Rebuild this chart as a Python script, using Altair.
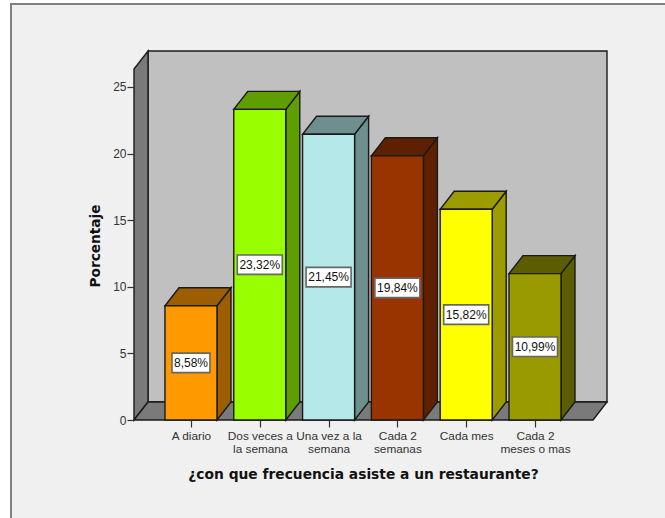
import altair as alt
import pandas as pd

categorias = ["A diario", "Dos veces a\nla semana", "Una vez a la\nsemana",
              "Cada 2\nsemanas", "Cada mes", "Cada 2\nmeses o mas"]
porcentajes = [8.58, 23.32, 21.45, 19.84, 15.82, 10.99]
etiquetas = ["8,58%", "23,32%", "21,45%", "19,84%", "15,82%", "10,99%"]
frente = ["#ff9900", "#99ff00", "#b5e8e8", "#993300", "#ffff00", "#999900"]
lateral = ["#9c5e00", "#5f9e00", "#6f8f8f", "#5f2000", "#9c9c00", "#5c5c00"]

# Extent of the pseudo-3D box, in axis units
X_MIN, X_MAX = -0.828, 5.843
DX, DY = 0.2035, 1.35
Y_TOP = 26.35
MITAD = 0.378  # half a bar's width
LINEA = "#1a1a1a"

WIDTH, HEIGHT = 473, 369
PAD_L, PAD_T, PAD_R, PAD_B = 134, 51, 58, 98

x_scale = alt.Scale(domain=[X_MIN, X_MAX + DX], nice=False, zero=False)
y_scale = alt.Scale(domain=[0, Y_TOP + DY], nice=False)

lista = "[" + ",".join("'" + c.replace("\n", "|") + "'" for c in categorias) + "]"
eje_x = alt.Axis(
    values=list(range(6)), labelExpr=f"split({lista}[datum.value], '|')",
    labelFont="Liberation Sans", labelFontSize=11.8, labelColor="#333333",
    labelOverlap=False, labelFlush=False, labelBound=False, labelPadding=3,
    labelLineHeight=13, tickColor="#333333", tickSize=7, tickWidth=1.2, domain=False, grid=False,
    titleFont="DejaVu Sans", titleFontSize=13.8, titleFontWeight="bold", titleColor="#111111",
    titleX=229, titleY=54, titleAnchor="middle", titleBaseline="middle", zindex=1,
    title="¿con que frecuencia asiste a un restaurante?",
)
eje_y = alt.Axis(
    values=[0, 5, 10, 15, 20, 25], labelFont="Liberation Sans", labelFontSize=12,
    labelColor="#333333", labelPadding=1, tickColor="#333333", tickSize=7, tickWidth=1.2,
    domain=False, grid=False,
    titleFont="DejaVu Sans", titleFontSize=13.7, titleFontWeight="bold", titleColor="#111111",
    titleX=-39, titleY=194.5, titleAnchor="middle", titleBaseline="middle", zindex=1,
    title="Porcentaje",
)
X = lambda f: alt.X(f, type="quantitative", scale=x_scale, axis=eje_x)
Y = lambda f: alt.Y(f, type="quantitative", scale=y_scale, axis=eje_y)

frame = alt.Chart(pd.DataFrame({"a": [0]})).mark_rect(
    fill="#f0f0f0", stroke="#808080", strokeWidth=2
).encode(
    x=alt.value(11 - PAD_L), x2=alt.value(WIDTH + PAD_R + 20),
    y=alt.value(4 - PAD_T), y2=alt.value(HEIGHT + PAD_B + 20),
)

pared_fondo = alt.Chart(pd.DataFrame({
    "x": [X_MIN + DX], "x2": [X_MAX + DX], "y": [DY], "y2": [Y_TOP + DY],
})).mark_rect(fill="#c0c0c0", stroke=LINEA, strokeWidth=1.4).encode(
    x=X("x"), x2="x2", y=Y("y"), y2="y2")

pared_izq = alt.Chart(pd.DataFrame({
    "x": [X_MIN, X_MIN + DX], "y": [0, DY], "y2": [Y_TOP, Y_TOP + DY],
})).mark_area(fill="#7a7a7a", stroke=LINEA, strokeWidth=1.4).encode(
    x=X("x"), y=Y("y"), y2="y2")

suelo = alt.Chart(pd.DataFrame({
    "y": [0, DY], "x": [X_MIN, X_MIN + DX], "x2": [X_MAX, X_MAX + DX],
})).mark_area(fill="#7a7a7a", stroke=LINEA, strokeWidth=1.4, orient="horizontal").encode(
    y=Y("y"), x=X("x"), x2="x2")

filas_lat, filas_sup, filas_fr, filas_box = [], [], [], []
for i, (v, f, l, e) in enumerate(zip(porcentajes, frente, lateral, etiquetas)):
    der = i + MITAD
    izq = i - MITAD
    filas_lat += [dict(k=i, x=der, y=0, y2=v, c=l), dict(k=i, x=der + DX, y=DY, y2=v + DY, c=l)]
    filas_sup += [dict(k=i, y=v, x=izq, x2=der, c=l), dict(k=i, y=v + DY, x=izq + DX, x2=der + DX, c=l)]
    filas_fr.append(dict(k=i, x=izq, x2=der, y=0, y2=v, c=f))
    ancho = (45 if len(e) > 5 else 38) / 68.8
    filas_box.append(dict(x=i - ancho / 2, x2=i + ancho / 2, y=v / 2 - 0.73, y2=v / 2 + 0.73,
                          cx=i, cy=v / 2, t=e))

relleno = alt.Fill("c:N", scale=None, legend=None)
caras_lat = alt.Chart(pd.DataFrame(filas_lat)).mark_area(stroke=LINEA, strokeWidth=1.4).encode(
    x=X("x"), y=Y("y"), y2="y2", fill=relleno, detail="k:N")
caras_sup = alt.Chart(pd.DataFrame(filas_sup)).mark_area(
    stroke=LINEA, strokeWidth=1.4, orient="horizontal"
).encode(y=Y("y"), x=X("x"), x2="x2", fill=relleno, detail="k:N")
caras_fr = alt.Chart(pd.DataFrame(filas_fr)).mark_rect(stroke=LINEA, strokeWidth=1.4).encode(
    x=X("x"), x2="x2", y=Y("y"), y2="y2", fill=relleno)

cajas = alt.Chart(pd.DataFrame(filas_box)).mark_rect(
    fill="white", stroke="#666666", strokeWidth=1.6
).encode(x=X("x"), x2="x2", y=Y("y"), y2="y2")
textos = alt.Chart(pd.DataFrame(filas_box)).mark_text(
    font="Liberation Sans", fontSize=12, color="#111111"
).encode(x=X("cx"), y=Y("cy"), text="t:N")

chart = alt.layer(
    frame, pared_fondo, pared_izq, suelo, caras_lat, caras_sup, caras_fr, cajas, textos
).properties(
    width=WIDTH, height=HEIGHT, background="white",
    padding=dict(left=PAD_L, top=PAD_T, right=PAD_R, bottom=PAD_B),
    autosize=alt.AutoSizeParams(type="none"),
).configure_view(stroke=None)

chart.save("out.html", embed_options={"renderer": "svg", "actions": False})
